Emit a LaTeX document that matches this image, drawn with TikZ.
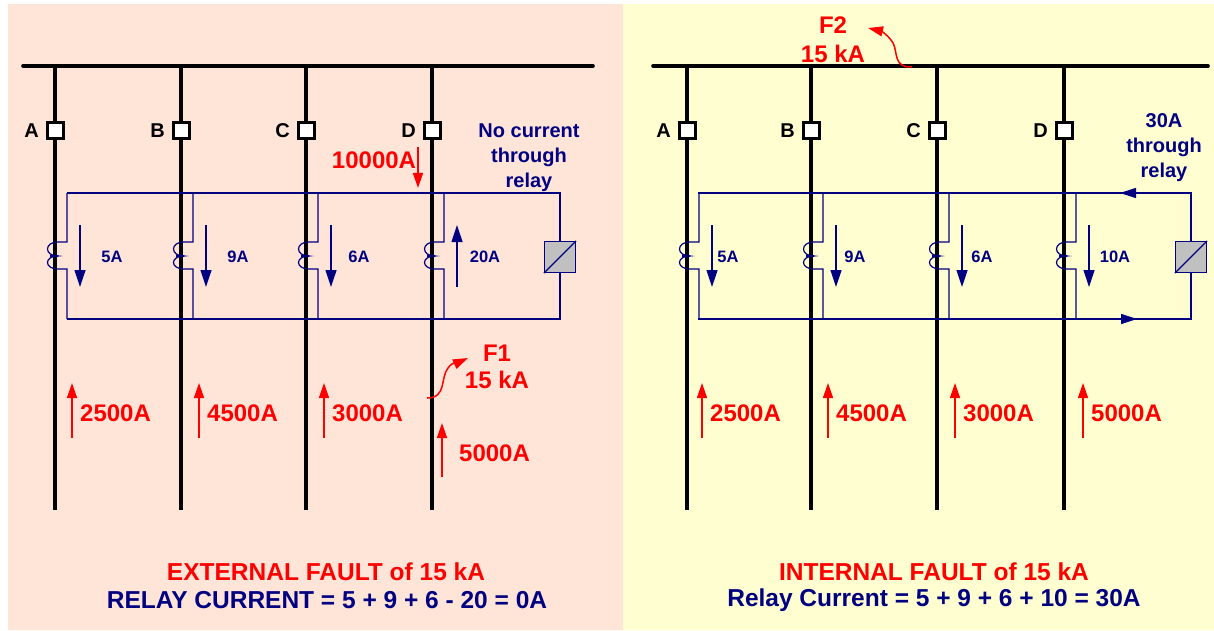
\documentclass[tikz,border=0pt]{standalone}
\usepackage{fontspec}
\setmainfont{Liberation Sans}
\usetikzlibrary{arrows.meta}
\definecolor{navyc}{HTML}{000080}
\definecolor{pinkbg}{HTML}{FFE4D8}
\definecolor{yelbg}{HTML}{FFFED0}
\definecolor{relayg}{HTML}{C0C0C0}
\definecolor{redc}{HTML}{FF0000}
\tikzset{
  feeder/.style={line width=3.6pt, black},
  breaker/.style={draw=black, fill=white, line width=3pt, minimum size=16pt, inner sep=0pt},
  letter/.style={font=\fontsize{20}{22}\selectfont\bfseries, inner sep=0pt, black},
  ct/.style={navyc, line width=1.2pt},
  barrow/.style={navyc, line width=1.2pt, -{Triangle[length=17pt,width=11pt]}},
  rarrow/.style={redc, line width=1.5pt, -{Triangle[length=15pt,width=10pt]}},
  small/.style={font=\fontsize{16.5}{19}\selectfont\bfseries, navyc, inner sep=0pt},
  big/.style={font=\fontsize{24}{28}\selectfont\bfseries, inner sep=0pt},
  title/.style={font=\fontsize{24.5}{28}\selectfont\bfseries, inner sep=0pt},
  note/.style={font=\fontsize{20}{25}\selectfont\bfseries, navyc, align=center, inner sep=0pt},
  relay/.style={draw=navyc, fill=relayg, line width=1.2pt, minimum size=31pt, inner sep=0pt},
}
\begin{document}
\begin{tikzpicture}[x=1pt,y=-1pt]
\useasboundingbox (0,0) rectangle (1214,631);
\fill[white] (0,0) rectangle (1214,631);
\fill[pinkbg] (8,4) rectangle (623,630);
\fill[yelbg] (623,4) rectangle (1214,630);

% busbars
\coordinate (Lbus1) at (23,66); \coordinate (Lbus2) at (593,66);
\coordinate (Rbus1) at (653,66); \coordinate (Rbus2) at (1208,66);
\draw[feeder, line cap=round] (Lbus1) -- (Lbus2);
\draw[feeder, line cap=round] (Rbus1) -- (Rbus2);

% feeders, breakers, CTs
\foreach \n/\x/\l/\c/\cx/\ya/\yb in {LA/55/A/5A/112/225/287, LB/181/B/9A/238/225/287, LC/306/C/6A/359/225/287, LD/432/D/20A/485/287/225, RA/687/A/5A/728/225/287, RB/811/B/9A/855/225/287, RC/937/C/6A/982/225/287, RD/1064/D/10A/1115/225/287}{
  \coordinate (\n top) at (\x,66);
  \coordinate (\n bot) at (\x,510);
  \draw[feeder] (\n top) -- (\n bot);
  \node[breaker] (\n brk) at (\x,131) {};
  \node[letter, anchor=east] (\n lbl) at (\x-16,131) {\l};
  \draw[ct] (\x+12,193) -- (\x+12,242) -- (\x+3,242)
     .. controls (\x-11,242) and (\x-11,256) .. (\x+3,256)
     .. controls (\x-11,256) and (\x-11,269) .. (\x+3,269)
     -- (\x+12,269) -- (\x+12,319);
  \draw[ct] (\x-5,256) -- (\x+3,256);
  \coordinate (\n a1) at (\x+25,\ya);
  \coordinate (\n a2) at (\x+25,\yb);
  \draw[barrow] (\n a1) -- (\n a2);
  \node[small] (\n cur) at (\cx,257) {\c};
}

% left secondary loop and relay
\node[relay] (Lrelay) at (560,257) {};
\draw[ct] (Lrelay.south west) -- (Lrelay.north east);
\coordinate (Ltl) at (67,193); \coordinate (Ltr) at (560,193);
\coordinate (Lbl) at (67,319); \coordinate (Lbr) at (560,319);
\draw[ct] (Ltl) -- (Ltr) -- (Lrelay.north);
\draw[ct] (Lrelay.south) -- (Lbr) -- (Lbl);

% right secondary loop and relay
\node[relay] (Rrelay) at (1191,257) {};
\draw[ct] (Rrelay.south west) -- (Rrelay.north east);
\coordinate (Rtl) at (698,193); \coordinate (Rtr) at (1191,193);
\coordinate (Rbl) at (698,319); \coordinate (Rbr) at (1191,319);
\draw[ct] (Rtl) -- (Rtr) -- (Rrelay.north);
\draw[ct] (Rrelay.south) -- (Rbr) -- (Rbl);
\coordinate (Rtop1) at (1145,193); \coordinate (Rtop2) at (1120,193);
\coordinate (Rbot1) at (1112,319); \coordinate (Rbot2) at (1137,319);
\draw[ct, -{Triangle[length=16pt,width=10pt]}] (Rtop1) -- (Rtop2);
\draw[ct, -{Triangle[length=16pt,width=10pt]}] (Rbot1) -- (Rbot2);

% notes
\node[note] (Lnote) at (529,158) {No current\\through\\relay};
\node[note] (Rnote) at (1164,148) {30A\\through\\relay};

% 10000A
\coordinate (L10a) at (418,147); \coordinate (L10b) at (418,188);
\draw[rarrow] (L10a) -- (L10b);
\node[big, redc] (L10) at (374,160) {10000A};

% red feeder currents
\foreach \n/\x/\t in {LA/72/2500A, LB/199/4500A, LC/324/3000A, RA/702/2500A, RB/828/4500A, RC/955/3000A, RD/1083/5000A}{
  \coordinate (\n r1) at (\x,438);
  \coordinate (\n r2) at (\x,383);
  \draw[rarrow] (\n r1) -- (\n r2);
  \node[big, redc, anchor=west] (\n rl) at (\x+8,413) {\t};
}
\coordinate (LDr1) at (442,477); \coordinate (LDr2) at (442,423);
\draw[rarrow] (LDr1) -- (LDr2);
\node[big, redc, anchor=west] (LDrl) at (459,453) {5000A};

% F1
\coordinate (F1s) at (427,398); \coordinate (F1e) at (468,358);
\draw[rarrow] (F1s) .. controls (447,398) and (440,378) .. (448,368)
   .. controls (453,361) and (457,363) .. (F1e);
\node[big, redc] (F1a) at (497,353) {F1};
\node[big, redc] (F1b) at (497,380) {15 kA};

% F2
\coordinate (F2s) at (912,67); \coordinate (F2e) at (868,28);
\draw[rarrow] (F2s) .. controls (893,68) and (898,52) .. (893,43)
   .. controls (889,36) and (881,31) .. (F2e);
\node[big, redc] (F2a) at (833,25) {F2};
\node[big, redc] (F2b) at (833,54) {15 kA};

% titles
\node[title, redc] (Lt1) at (326,572) {EXTERNAL FAULT of 15 kA};
\node[title, navyc] (Lt2) at (327,600) {RELAY CURRENT = 5 + 9 + 6 - 20 = 0A};
\node[title, redc] (Rt1) at (934,572) {INTERNAL FAULT of 15 kA};
\node[title, navyc] (Rt2) at (934,600) {Relay Current = 5 + 9 + 6 + 10 = 30A};
\end{tikzpicture}
\end{document}
